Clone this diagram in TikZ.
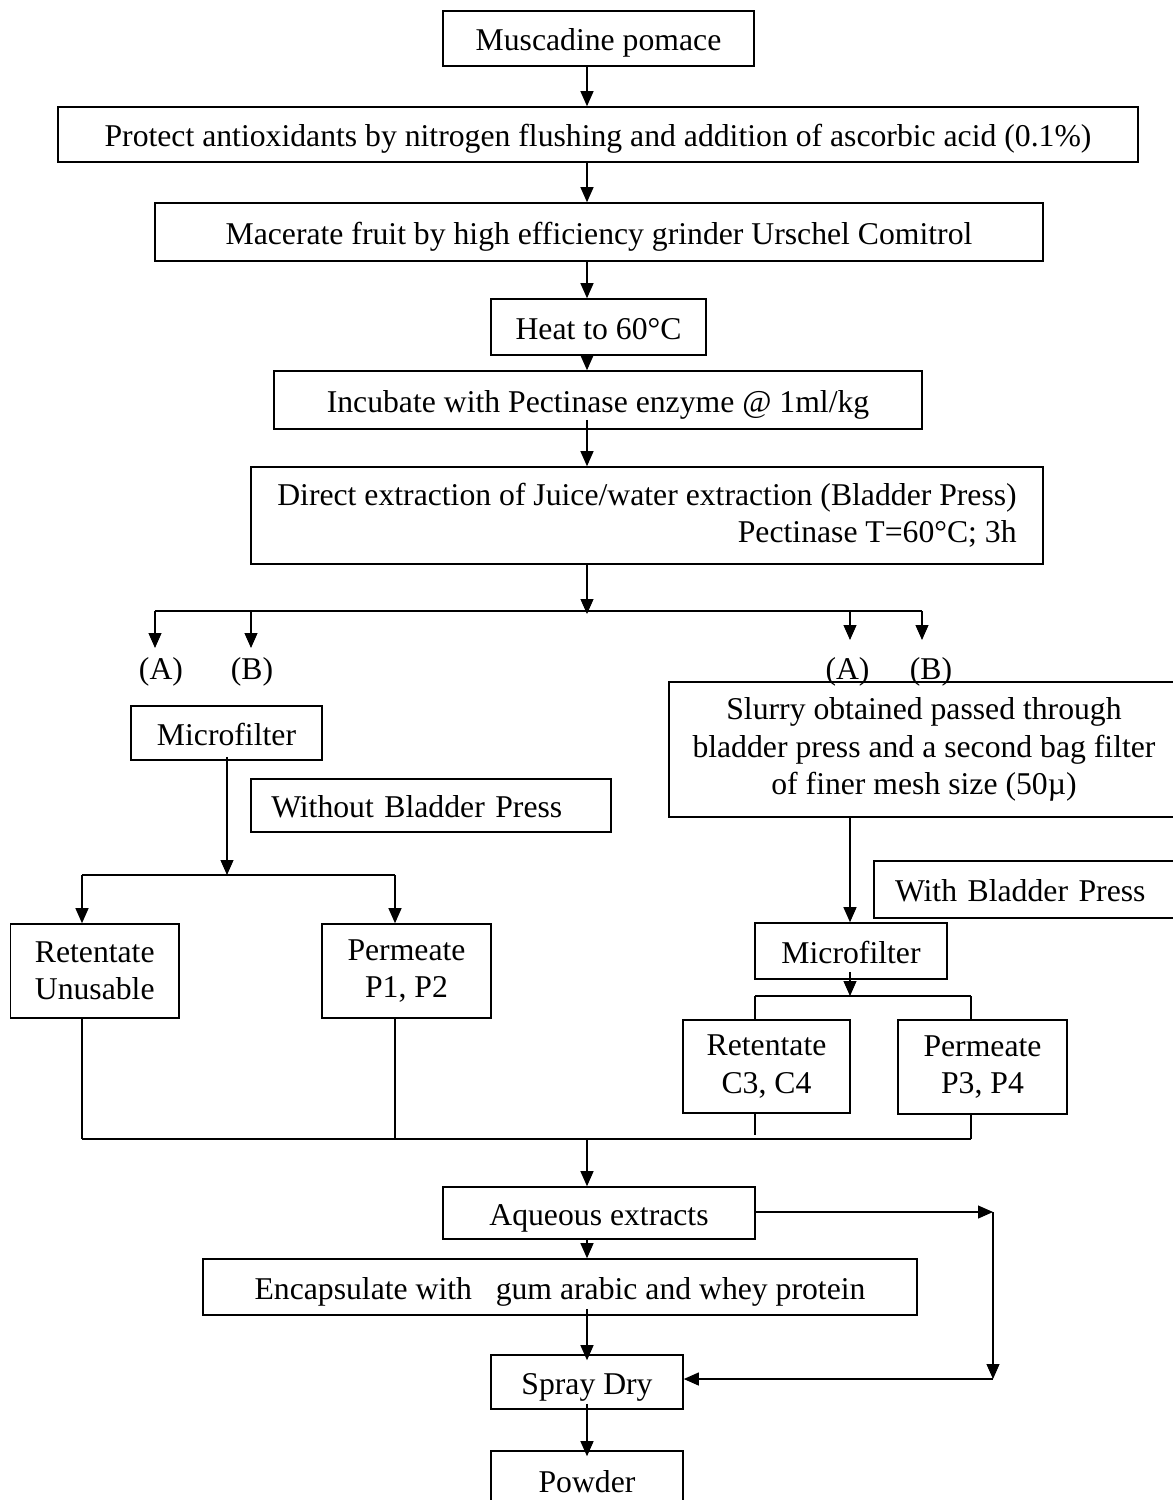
\documentclass[tikz,border=0pt]{standalone}
\usepackage{fontspec}
\setmainfont{Liberation Serif}
\usetikzlibrary{arrows.meta}
\begin{document}
\begin{tikzpicture}[x=1pt,y=-1pt,
  txt/.style={font=\fontsize{31.7}{37.5}\selectfont},
  box/.style={txt, draw, line width=1.6pt, inner sep=0pt},
  one/.style={text height=24.7pt, text depth=0pt},
  lbl/.style={txt, inner sep=0pt, anchor=base},
  arr/.style={line width=1.1pt, -{Triangle[length=15pt,width=13pt]}},
  ln/.style={line width=1.1pt},
  bus/.style={line width=1.8pt}]
\useasboundingbox (0,0) rectangle (1173,1500);

% main column
\node[box, one, minimum width=311pt, minimum height=55pt] (pomace) at (598.5,38.5) {Muscadine pomace};
\node[box, one, minimum width=1080pt, minimum height=55pt] (protect) at (598,134.5) {Protect antioxidants by nitrogen flushing and addition of ascorbic acid (0.1\%)};
\node[box, one, minimum width=888pt, minimum height=58pt] (macerate) at (599,232) {Macerate fruit by high efficiency grinder Urschel Comitrol};
\node[box, one, minimum width=215pt, minimum height=56pt] (heat) at (598.5,327) {Heat to 60°C};
\node[box, one, minimum width=647.5pt, minimum height=58pt] (incubate) at (598,400) {Incubate with Pectinase enzyme @ 1ml/kg};
\node[box, align=right, minimum width=792.5pt, minimum height=97pt] (direct) at (647,515.5) {Direct extraction of Juice/water extraction (Bladder Press)\\Pectinase T=60°C; 3h};

\coordinate (ax) at (587,0);
\coordinate (split) at (587,611);
\coordinate (sA1) at (155,611);
\coordinate (sB2) at (922,611);

% branch labels
\node[lbl] (lA) at (161,679) {(A)};
\node[lbl] (lB) at (252,679) {(B)};
\node[lbl] (rA) at (847.5,679) {(A)};
\node[lbl] (rB) at (931,679) {(B)};
\coordinate (tA) at (155,648);
\coordinate (tB) at (251,648);
\coordinate (uA) at (850,640);
\coordinate (uB) at (922,640);

% left branch: without bladder press
\node[box, one, minimum width=191pt, minimum height=54pt] (mfL) at (226.5,733) {Microfilter};
\node[box, one, inner xsep=20.5pt, text width=319.5pt, align=left, minimum width=360.5pt, minimum height=53pt] (without) at (431,805.5) {Without Bladder Press};
\coordinate (lbus) at (227,875);
\coordinate (lbusL) at (82,875);
\coordinate (lbusR) at (395,875);
\node[box, align=center, minimum width=168.5pt, minimum height=94pt] (retU) at (94.75,971) {Retentate\\Unusable};
\node[box, align=center, minimum width=169pt, minimum height=94pt] (permL) at (406.5,971) {Permeate\\P1, P2};

% right branch: with bladder press
\node[box, align=center, minimum width=510pt, minimum height=135pt] (slurry) at (924,749.5) {Slurry obtained passed through\\bladder press and a second bag filter\\of finer mesh size (50µ)};
\node[box, one, inner xsep=21pt, text width=278pt, align=left, minimum width=320pt, minimum height=57pt] (withbp) at (1034,889.5) {With Bladder Press};
\node[box, one, minimum width=192pt, minimum height=56pt] (mfR) at (851,951) {Microfilter};
\coordinate (rbus) at (850,996);
\coordinate (rbusL) at (755,996);
\coordinate (rbusR) at (971,996);
\node[box, align=center, minimum width=167pt, minimum height=93pt] (retC) at (766.5,1066.5) {Retentate\\C3, C4};
\node[box, align=center, minimum width=169pt, minimum height=94pt] (permR) at (982.5,1067) {Permeate\\P3, P4};

% merge
\coordinate (mL) at (82,1139);
\coordinate (mP) at (395,1139);
\coordinate (mC) at (755,1139);
\coordinate (mR) at (971,1139);
\coordinate (mM) at (587,1139);

% final steps
\node[box, one, minimum width=312pt, minimum height=52pt] (aq) at (599,1213) {Aqueous extracts};
\node[box, one, minimum width=714pt, minimum height=56pt] (enc) at (560,1287) {Encapsulate with~~ gum arabic and whey protein};
\node[box, one, minimum width=192pt, minimum height=54pt] (spray) at (587,1382) {Spray Dry};
\node[box, one, minimum width=192pt, minimum height=59pt] (powder) at (587,1480.5) {Powder};
\coordinate (c1) at (993,1212);
\coordinate (c2) at (993,1379);

% connectors
\draw[arr] (pomace.south -| ax) -- (protect.north -| ax);
\draw[arr] (protect.south -| ax) -- (macerate.north -| ax);
\draw[arr] (macerate.south -| ax) -- (heat.north -| ax);
\draw[arr] (heat.south -| ax) -- (incubate.north -| ax);
\draw[arr] ([yshift=10pt]incubate.south -| ax) -- (direct.north -| ax);
\draw[arr] (direct.south -| ax) -- ([yshift=-3pt]split);
\draw[bus] (sA1) -- (sB2);
\draw[arr] (sA1) -- (tA);
\draw[arr] (tB |- split) -- (tB);
\draw[arr] (uA |- split) -- (uA);
\draw[arr] (sB2) -- (uB);

\draw[arr] ([yshift=4pt]mfL.south -| lbus) -- (lbus);
\draw[bus] (lbusL) -- (lbusR);
\draw[arr] (lbusL) -- (retU.north -| lbusL);
\draw[arr] (lbusR) -- (permL.north -| lbusR);

\draw[arr] (slurry.south -| uA) -- (mfR.north -| uA);
\draw[arr] ([yshift=8pt]mfR.south -| rbus) -- (rbus);
\draw[bus] (rbusL) -- (rbusR);
\draw[ln] (rbusL) -- (retC.north -| rbusL);
\draw[ln] (rbusR) -- (permR.north -| rbusR);

\draw[ln] (retU.south -| mL) -- (mL);
\draw[ln] (permL.south -| mP) -- (mP);
\draw[ln] (retC.south -| mC) -- ([yshift=4pt]mC);
\draw[ln] (permR.south -| mR) -- (mR);
\draw[bus] (mL) -- (mR);
\draw[arr] (mM) -- (aq.north -| mM);

\draw[arr] (aq.south -| ax) -- (enc.north -| ax);
\draw[arr] ([yshift=7pt]enc.south -| ax) -- ([yshift=-6pt]spray.north -| ax);
\draw[arr] ([yshift=6pt]spray.south -| ax) -- ([yshift=-6pt]powder.north -| ax);
\draw[arr] (aq.east |- c1) -- (c1);
\draw[arr] (c1) -- (c2);
\draw[arr] (c2) -- (spray.east |- c2);
\end{tikzpicture}
\end{document}
